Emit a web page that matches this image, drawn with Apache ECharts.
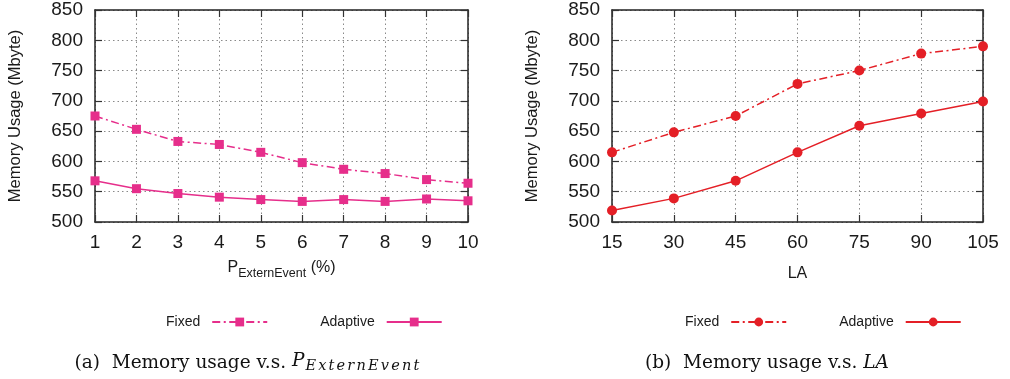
<!DOCTYPE html>
<html>
<head>
<meta charset="utf-8">
<script src="https://cdn.jsdelivr.net/npm/echarts@6/dist/echarts.min.js"></script>
<style>
  html, body { margin: 0; padding: 0; background: #fff; }
  #chart { width: 1010px; height: 379px; }
</style>
</head>
<body>
<div id="chart"></div>
<script>
// Panel (a): memory usage against the external-event probability (%)
const pExternEvent = [1, 2, 3, 4, 5, 6, 7, 8, 9, 10];
const fixedByP     = [675, 653, 633, 628, 615, 598, 587, 580, 570, 564];
const adaptiveByP  = [568, 555, 547, 541, 537, 534, 537, 534, 538, 535];

// Panel (b): memory usage against LA
const laValues      = [15, 30, 45, 60, 75, 90, 105];
const fixedByLA     = [615, 648, 675, 728, 750, 778, 790];
const adaptiveByLA  = [519, 539, 568, 615, 659, 679, 699];

// Shared memory axis (Mbyte)
const memMin = 500, memMax = 850, memStep = 50;

const pink = '#e62e8b';
const red = '#e41f26';
const sans = '"Liberation Sans", Arial, sans-serif';
const serif = '"DejaVu Serif", serif';
const dashDot = [8, 3.5, 2, 3.5];

const zip = (xs, ys) => xs.map((x, i) => [x, ys[i]]);

const gridLine = { show: true, lineStyle: { color: '#8a8a8a', type: [1.5, 3], width: 1 } };
const frameLine = { show: true, lineStyle: { color: '#222', width: 1.5 } };
const innerTick = { show: true, inside: true, length: 7, lineStyle: { color: '#333', width: 1.2 } };
const tickLabel = { fontSize: 19, fontFamily: sans, color: '#1a1a1a' };

function bottomAxis(grid, xs, step, nameRich) {
  return {
    type: 'value', gridIndex: grid, position: 'bottom',
    min: xs[0], max: xs[xs.length - 1], interval: step,
    axisLine: frameLine, axisTick: innerTick, splitLine: gridLine,
    axisLabel: Object.assign({ margin: 11 }, tickLabel),
    name: nameRich.text, nameLocation: 'middle', nameGap: nameRich.gap,
    nameTextStyle: { fontSize: 16, fontFamily: sans, color: '#1a1a1a', rich: nameRich.rich }
  };
}
function topAxis(grid, xs, step) {
  return {
    type: 'value', gridIndex: grid, position: 'top',
    min: xs[0], max: xs[xs.length - 1], interval: step,
    axisLine: frameLine, axisTick: innerTick, splitLine: { show: false },
    axisLabel: { show: false }
  };
}
function leftAxis(grid) {
  return {
    type: 'value', gridIndex: grid, position: 'left',
    min: memMin, max: memMax, interval: memStep,
    axisLine: frameLine, axisTick: innerTick, splitLine: gridLine,
    axisLabel: Object.assign({ margin: 12 }, tickLabel),
    name: 'Memory Usage (Mbyte)', nameLocation: 'middle', nameGap: 71,
    nameTextStyle: { fontSize: 16.5, fontFamily: sans, color: '#1a1a1a' }
  };
}
function rightAxis(grid) {
  return {
    type: 'value', gridIndex: grid, position: 'right',
    min: memMin, max: memMax, interval: memStep,
    axisLine: frameLine, axisTick: innerTick, splitLine: { show: false },
    axisLabel: { show: false }
  };
}

function lineSeries(name, axis, data, color, symbol, size, dashed) {
  return {
    name: name, type: 'line', xAxisIndex: axis, yAxisIndex: axis,
    data: data, symbol: symbol, symbolSize: size, showAllSymbol: true,
    itemStyle: { color: color },
    lineStyle: { color: color, width: 1.5, type: dashed ? dashDot : 'solid' },
    emphasis: { disabled: true }, animation: false
  };
}

const legendText = { fontSize: 14, fontFamily: sans, color: '#1a1a1a', padding: [0, 7, 0, 0] };
const legendName = (n) => n.split('|')[0];

// Italic subscript, one token per letter so the spacing opens up like math italics
const subscript = (word) => word.split('').map((c) => '{ms|' + c + '}').join('');

const chart = echarts.init(document.getElementById('chart'), null, { renderer: 'canvas' });
chart.setOption({
  backgroundColor: '#fff',
  animation: false,
  grid: [
    { left: 95, top: 10, width: 373, height: 212 },
    { left: 612, top: 10, width: 371, height: 212 }
  ],
  xAxis: [
    bottomAxis(0, pExternEvent, 1, {
      text: '{p|P}{s|ExternEvent}{p| (%)}', gap: 38,
      rich: {
        p: { fontSize: 16, fontFamily: sans, color: '#1a1a1a', lineHeight: 20, verticalAlign: 'top' },
        s: { fontSize: 12.5, fontFamily: sans, color: '#1a1a1a', lineHeight: 20, padding: [10, 0, 0, 0], verticalAlign: 'bottom' }
      }
    }),
    topAxis(0, pExternEvent, 1),
    bottomAxis(1, laValues, 15, {
      text: 'LA', gap: 44, rich: {}
    }),
    topAxis(1, laValues, 15)
  ],
  yAxis: [leftAxis(0), rightAxis(0), leftAxis(1), rightAxis(1)],
  legend: [
    {
      data: ['Fixed|P', 'Adaptive|P'], formatter: legendName,
      left: 161, top: 310, align: 'right', orient: 'horizontal',
      itemWidth: 55, itemHeight: 11, itemGap: 52, textStyle: legendText,
      selectedMode: false
    },
    {
      data: ['Fixed|LA', 'Adaptive|LA'], formatter: legendName,
      left: 680, top: 310, align: 'right', orient: 'horizontal',
      itemWidth: 55, itemHeight: 11, itemGap: 52, textStyle: legendText,
      selectedMode: false
    }
  ],
  series: [
    lineSeries('Fixed|P', 0, zip(pExternEvent, fixedByP), pink, 'rect', 9, true),
    lineSeries('Adaptive|P', 0, zip(pExternEvent, adaptiveByP), pink, 'rect', 9, false),
    lineSeries('Fixed|LA', 2, zip(laValues, fixedByLA), red, 'circle', 10, true),
    lineSeries('Adaptive|LA', 2, zip(laValues, adaptiveByLA), red, 'circle', 10, false)
  ],
  graphic: [
    {
      type: 'text', x: 248, y: 363,
      style: {
        text: '(a)  Memory usage v.s. {m|P}' + subscript('ExternEvent'),
        fontSize: 18.5, fontFamily: serif, fill: '#111',
        align: 'center', verticalAlign: 'middle',
        rich: {
          m: { fontSize: 18.5, fontFamily: serif, fontStyle: 'italic', fill: '#111', lineHeight: 22, verticalAlign: 'top', padding: [0, 1, 0, 0] },
          ms: { fontSize: 14.5, fontFamily: serif, fontStyle: 'italic', fill: '#111', lineHeight: 20, padding: [6, 2.2, 0, 0], verticalAlign: 'bottom' }
        }
      }
    },
    {
      type: 'text', x: 767, y: 363,
      style: {
        text: '(b)  Memory usage v.s. {m|LA}',
        fontSize: 18.5, fontFamily: serif, fill: '#111',
        align: 'center', verticalAlign: 'middle',
        rich: {
          m: { fontSize: 18.5, fontFamily: serif, fontStyle: 'italic', fill: '#111' }
        }
      }
    }
  ]
});
</script>
</body>
</html>
